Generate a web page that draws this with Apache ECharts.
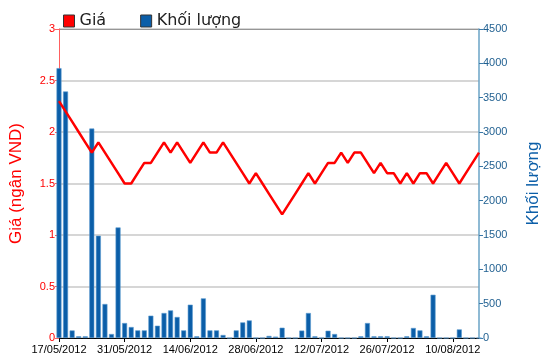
<!DOCTYPE html>
<html>
<head>
<meta charset="utf-8">
<script src="https://cdn.jsdelivr.net/npm/echarts@6/dist/echarts.min.js"></script>
<style>html,body{margin:0;padding:0;background:#fff}#c{width:550px;height:364px}</style>
</head>
<body>
<div id="c"></div>
<script>
var dates = ['17/05/2012','18/05/2012','21/05/2012','22/05/2012','23/05/2012','24/05/2012','25/05/2012','28/05/2012','29/05/2012','30/05/2012',
'31/05/2012','01/06/2012','04/06/2012','05/06/2012','06/06/2012','07/06/2012','08/06/2012','11/06/2012','12/06/2012','13/06/2012',
'14/06/2012','15/06/2012','18/06/2012','19/06/2012','20/06/2012','21/06/2012','22/06/2012','25/06/2012','26/06/2012','27/06/2012',
'28/06/2012','29/06/2012','02/07/2012','03/07/2012','04/07/2012','05/07/2012','06/07/2012','09/07/2012','10/07/2012','11/07/2012',
'12/07/2012','13/07/2012','16/07/2012','17/07/2012','18/07/2012','19/07/2012','20/07/2012','23/07/2012','24/07/2012','25/07/2012',
'26/07/2012','30/07/2012','31/07/2012','01/08/2012','02/08/2012','03/08/2012','06/08/2012','07/08/2012','08/08/2012','09/08/2012',
'10/08/2012','13/08/2012','14/08/2012','15/08/2012','16/08/2012'];
var price = [2.3,2.2,2.1,2.0,1.9,1.8,1.9,1.8,1.7,1.6,
1.5,1.5,1.6,1.7,1.7,1.8,1.9,1.8,1.9,1.8,
1.7,1.8,1.9,1.8,1.8,1.9,1.8,1.7,1.6,1.5,
1.6,1.5,1.4,1.3,1.2,1.3,1.4,1.5,1.6,1.5,
1.6,1.7,1.7,1.8,1.7,1.8,1.8,1.7,1.6,1.7,
1.6,1.6,1.5,1.6,1.5,1.6,1.6,1.5,1.6,1.7,
1.6,1.5,1.6,1.7,1.8];
var volume = [3930,3590,110,25,25,3050,1490,495,58,1610,
218,160,111,111,325,179,364,402,306,111,
485,25,577,111,111,44,0,111,227,256,
0,0,30,20,150,0,0,108,364,25,
0,106,58,0,0,0,25,218,25,25,
25,0,0,25,146,111,25,630,0,0,
0,125,0,0,0];
var priceTicks = {min:0, max:3, interval:0.5};
var volTicks = {min:0, max:4500, interval:500};

var chart = echarts.init(document.getElementById('c'), null, {renderer:'canvas'});
chart.setOption({
  animation:false,
  backgroundColor:'#fff',
  textStyle:{fontFamily:'Liberation Sans'},
  legend:{
    left:58, top:8, itemGap:34, itemWidth:11, itemHeight:12,
    icon:'rect',
    textStyle:{fontSize:16, color:'#222', fontFamily:'DejaVu Sans'},
    data:[
      {name:'Giá', itemStyle:{color:'#ff0000', borderColor:'#333', borderWidth:1}},
      {name:'Khối lượng', itemStyle:{color:'#0b5ea8', borderColor:'#333', borderWidth:1}}
    ]
  },
  grid:{left:56, right:67, top:29, bottom:26, show:true, borderColor:'#000', borderWidth:0},
  xAxis:{
    type:'category', data:dates, boundaryGap:false,
    axisLine:{lineStyle:{color:'#000', width:1}},
    axisTick:{interval:9, length:4, lineStyle:{color:'#000'}},
    axisLabel:{interval:9, color:'#000', fontSize:11, margin:6},
    splitLine:{show:false}
  },
  yAxis:[
    {type:'value', min:priceTicks.min, max:priceTicks.max, interval:priceTicks.interval,
     name:'Giá (ngân VND)', nameLocation:'middle', nameGap:34, nameRotate:90,
     nameTextStyle:{color:'#ff0000', fontSize:17},
     axisLine:{show:true, lineStyle:{color:'#ff6060', width:1}},
     axisTick:{show:true, length:4, lineStyle:{color:'#ff6060'}},
     axisLabel:{color:'#ff0000', fontSize:11, margin:4},
     splitLine:{show:true, lineStyle:{color:'#c8c8c8', width:1.5}}
    },
    {type:'value', min:volTicks.min, max:volTicks.max, interval:volTicks.interval, position:'right',
     name:'Khối lượng', nameLocation:'middle', nameGap:46, nameRotate:90,
     nameTextStyle:{color:'#0b5ea8', fontSize:17},
     axisLine:{show:true, lineStyle:{color:'#6aa3c6', width:1.5}},
     axisTick:{show:true, length:4, inside:false, lineStyle:{color:'#3a78a8'}},
     axisLabel:{color:'#1f5f90', fontSize:11, margin:4, formatter:function(v){return String(v);}},
     splitLine:{show:false}
    }
  ],
  series:[
    {name:'Khối lượng', type:'bar', yAxisIndex:1, data:volume, barWidth:5,
     itemStyle:{color:'#0b5ea8', borderColor:'#5a9ad0', borderWidth:0.6}, z:2},
    {name:'Giá', type:'line', yAxisIndex:0, data:price, symbol:'none',
     lineStyle:{color:'#ff0000', width:2.5}, itemStyle:{color:'#ff0000'}, z:3}
  ],
  graphic:[{type:'line', shape:{x1:56, y1:29.5, x2:483, y2:29.5}, style:{stroke:'#000', lineWidth:1}}]
});
</script>
</body>
</html>
